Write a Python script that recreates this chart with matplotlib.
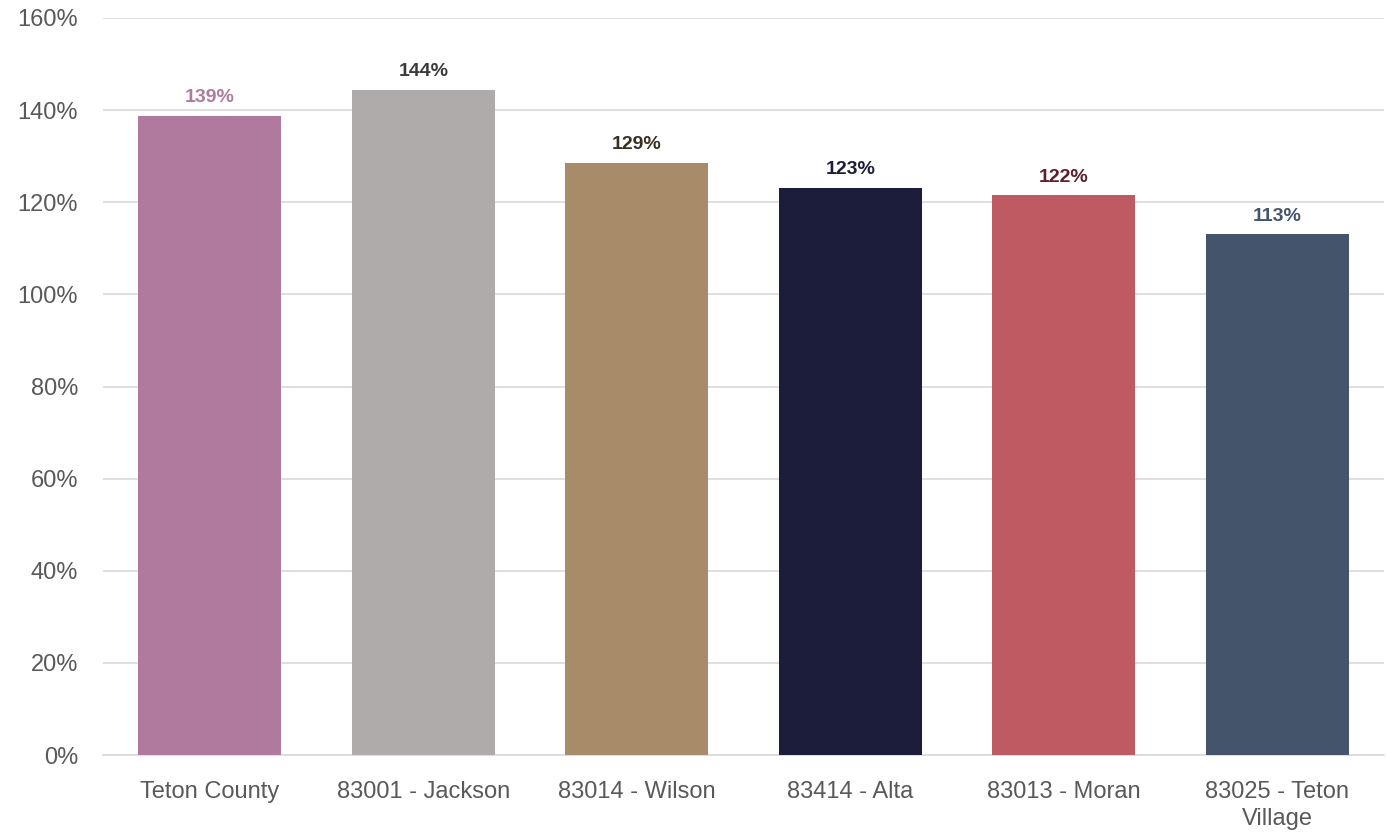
import matplotlib
matplotlib.use("Agg")
import matplotlib.pyplot as plt
from matplotlib.ticker import FuncFormatter

categories = ["Teton County", "83001 - Jackson", "83014 - Wilson",
              "83414 - Alta", "83013 - Moran", "83025 - Teton\nVillage"]
values = [1.388, 1.444, 1.286, 1.232, 1.215, 1.130]
bar_colors = ["#B07A9F", "#AFABAA", "#A88B69", "#1C1D3B", "#BE5A62", "#43546B"]
label_colors = ["#B07A9F", "#3A3A3A", "#3B2F22", "#1C1D3B", "#5E1F28", "#43546B"]
y_ticks = [0, 0.2, 0.4, 0.6, 0.8, 1.0, 1.2, 1.4, 1.6]

plt.rcParams["font.family"] = ["Liberation Sans", "DejaVu Sans"]

fig = plt.figure(figsize=(13.86, 8.32), dpi=100)
ax = fig.add_axes([103 / 1386, 1 - 755 / 832, (1384 - 103) / 1386, (755 - 18) / 832])

x = list(range(len(categories)))
ax.bar(x, values, width=0.67, color=bar_colors, zorder=3)

for xi, v, c in zip(x, values, label_colors):
    ax.annotate(f"{v * 100:.0f}%", (xi, v), xytext=(0, 7), textcoords="offset points",
                ha="center", va="bottom", fontsize=14, fontweight="bold", color=c)

ax.set_xlim(-0.5, len(categories) - 0.5)
ax.set_ylim(0, 1.6)
ax.set_yticks(y_ticks)
ax.yaxis.set_major_formatter(FuncFormatter(lambda v, _: f"{v * 100:.0f}%"))
ax.set_xticks(x)
ax.set_xticklabels(categories)

ax.grid(axis="y", color="#D9D9D9", linewidth=1.2, zorder=0)
for s in ["top", "right", "left"]:
    ax.spines[s].set_visible(False)
ax.spines["bottom"].set_color("#D9D9D9")
ax.spines["bottom"].set_linewidth(1.2)
ax.tick_params(axis="both", length=0, labelsize=17, labelcolor="#595959")
ax.tick_params(axis="y", pad=18)
ax.tick_params(axis="x", pad=19)
for t in ax.get_xticklabels():
    t.set_linespacing(1.25)

fig.savefig("out.png", dpi=100, facecolor="white")
